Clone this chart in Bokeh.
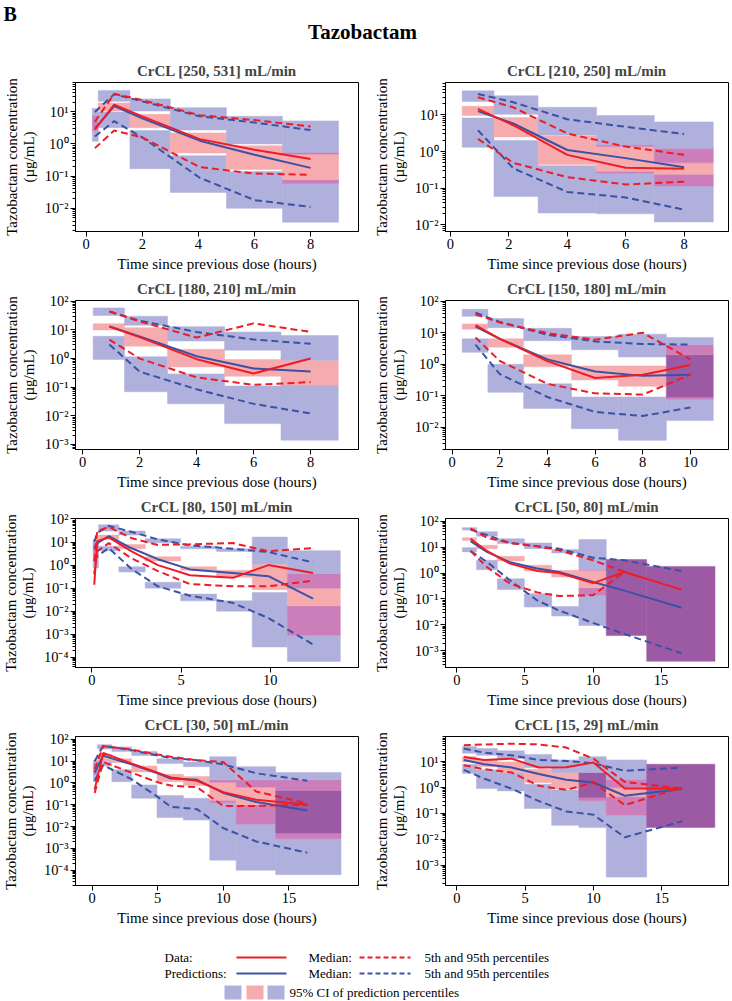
import math
from bokeh.plotting import figure
from bokeh.layouts import column, row
from bokeh.models import Range1d, FixedTicker, CustomJSTickFormatter, ColumnDataSource
from bokeh.embed import file_html
from bokeh.resources import INLINE
from bokeh.core.properties import value

NaN = float("nan")

TITLES = ["CrCL [250, 531] mL/min", "CrCL [210, 250] mL/min",
          "CrCL [180, 210] mL/min", "CrCL [150, 180] mL/min",
          "CrCL [80, 150] mL/min", "CrCL [50, 80] mL/min",
          "CrCL [30, 50] mL/min", "CrCL [15, 29] mL/min"]
X_TICKS = [[0, 2, 4, 6, 8], [0, 2, 4, 6, 8], [0, 2, 4, 6, 8], [0, 2, 4, 6, 8, 10],
           [0, 5, 10], [0, 5, 10, 15], [0, 5, 10, 15], [0, 5, 10, 15]]
Y_DECADES = [1e-4, 1e-3, 1e-2, 1e-1, 1, 10, 100]

# ---------------- panel 1 : CrCL [250, 531]
BIN_1 = [0.22, 0.43, 1.56, 3.0, 5.0, 7.0, 9.0]
CI95_1 = [[7.8, 12.6], [21, 46], [10.5, 25], [2.7, 13.4], [1.0, 7.2], [0.48, 5.2]]
CIMED_1 = [[2.6, 7.8], [10.5, 18.6], [3.2, 8.3], [0.52, 2.2], [0.16, 0.87], [0.059, 0.55]]
CI05_1 = [[1.2, 7.8], [3.2, 9.8], [0.17, 2.6], [0.031, 0.43], [0.01, 0.14], [0.0037, 0.079]]
T_1 = [0.31, 1.0, 2.0, 4.05, 6.0, 8.0]
OBS_MED_1 = [2.8, 16.6, 7.2, 1.41, 0.66, 0.34]
OBS_P95_1 = [4.9, 36, 23, 7.8, 5.5, 3.5]
OBS_P05_1 = [0.74, 2.6, 1.6, 0.19, 0.12, 0.11]
PRED_MED_1 = [3.0, 15, 6.2, 1.26, 0.46, 0.18]
PRED_P95_1 = [9.8, 35, 21, 7.2, 4.6, 2.7]
PRED_P05_1 = [1.7, 5.1, 1.6, 0.089, 0.018, 0.011]

# ---------------- panel 2 : CrCL [210, 250]
BIN_2 = [0.40, 1.49, 3.0, 5.0, 6.98, 9.0]
CI95_2 = [[23, 45], [10.3, 33], [2.8, 16], [1.36, 9.6], [0.49, 6.4]]
CIMED_2 = [[9.6, 17], [2.5, 8.4], [0.44, 2.7], [0.26, 1.5], [0.115, 1.23]]
CI05_2 = [[1.3, 8.2], [0.059, 2.0], [0.021, 0.41], [0.02, 0.29], [0.012, 0.24]]
T_2 = [0.94, 2.15, 4.0, 6.0, 8.0]
OBS_MED_2 = [14.5, 5.2, 0.81, 0.36, 0.34]
OBS_P95_2 = [30, 16, 3.1, 1.36, 0.81]
OBS_P05_2 = [2.2, 0.49, 0.2, 0.126, 0.15]
PRED_MED_2 = [12.6, 5.8, 1.1, 0.66, 0.37]
PRED_P95_2 = [37, 22, 7.6, 4.7, 3.0]
PRED_P05_2 = [3.8, 0.35, 0.079, 0.056, 0.026]

# ---------------- panel 3 : CrCL [180, 210]
BIN_3 = [0.37, 1.47, 2.98, 4.98, 6.96, 8.97]
CI95_3 = [[32, 59], [14.5, 30], [4.1, 13], [1.95, 8.5], [0.87, 6.4]]
CIMED_3 = [[10, 16.5], [2.7, 12], [0.51, 2.1], [0.24, 0.92], [0.12, 0.87]]
CI05_3 = [[0.93, 6.0], [0.069, 1.15], [0.026, 0.29], [0.0053, 0.11], [0.0014, 0.12]]
T_3 = [0.94, 2.0, 4.0, 6.0, 8.0]
OBS_MED_3 = [13.2, 5.6, 0.95, 0.30, 1.0]
OBS_P95_3 = [44, 20, 5.4, 17, 8.5]
OBS_P05_3 = [4.6, 1.0, 0.22, 0.12, 0.15]
PRED_MED_3 = [13.2, 5.9, 1.2, 0.45, 0.35]
PRED_P95_3 = [44, 21, 8.5, 4.6, 3.3]
PRED_P05_3 = [3.1, 0.35, 0.084, 0.026, 0.012]

# ---------------- panel 4 : CrCL [150, 180]
BIN_4 = [0.42, 1.50, 3.0, 5.01, 6.98, 8.99, 10.96]
CI95_4 = [[33, 55], [14.5, 28], [5.6, 13.8], [2.9, 7.6], [1.7, 9.0], [0.092, 7.1]]
CIMED_4 = [[13, 19], [3.5, 6.4], [0.83, 2.0], [0.32, 0.89], [0.2, 0.89], [0.078, 4.2]]
CI05_4 = [[2.4, 6.4], [0.13, 1.0], [0.04, 0.24], [0.0091, 0.092], [0.0039, 0.092], [0.0165, 2.0]]
T_4 = [0.98, 2.0, 4.0, 6.0, 8.0, 10.0]
OBS_MED_4 = [17.5, 6.4, 1.26, 0.37, 0.47, 0.95]
OBS_P95_4 = [38, 21, 9.7, 6.0, 10, 1.43]
OBS_P05_4 = [7.1, 1.27, 0.24, 0.12, 0.11, 0.47]
PRED_MED_4 = [15.5, 6.4, 1.43, 0.59, 0.43, 0.47]
PRED_P95_4 = [43, 22, 8.6, 5.3, 4.4, 4.2]
PRED_P05_4 = [4.2, 0.49, 0.092, 0.031, 0.023, 0.043]

# ---------------- panel 5 : CrCL [80, 150]
BIN_5 = [0.07, 0.37, 1.51, 2.99, 4.98, 6.99, 8.99, 10.96, 13.93]
CI95_5 = [[5.1, 13], [30, 56], [20, 30], [9.2, 14], [5.1, 6.5], [3.9, 5.1], [1.1, 16.4], [0.1, 4.2]]
CIMED_5 = [[2.8, 9.2], [13, 20], [5.1, 7.8], [1.5, 2.3], [0.6, 0.84], [0.3, 0.6], [0.086, 1.07], [0.00092, 0.43]]
CI05_5 = [[0.76, 5.1], [4.2, 6.5], [0.5, 0.84], [0.1, 0.18], [0.028, 0.055], [0.01, 0.028],
          [0.00028, 0.065], [0.000066, 0.017]]
T_5 = [0.13, 0.3, 0.95, 2.2, 3.7, 5.5, 7.9, 9.9, 12.4]
OBS_MED_5 = [0.14, 11, 16, 4.0, 1.0, 0.36, 0.28, 1.0, 0.45]
OBS_P95_5 = [1.5, 30, 45, 15, 7.5, 8, 9, 4.0, 5.5]
OBS_P05_5 = [0.4, 4, 9, 2.0, 0.55, 0.15, 0.12, 0.12, 0.21]
PRED_MED_5 = [5.5, 9, 18, 5.5, 1.8, 0.65, 0.45, 0.33, 0.035]
PRED_P95_5 = [10, 25, 50, 28, 13, 7.2, 5.1, 3.7, 1.3]
PRED_P05_5 = [1.5, 2.5, 5.5, 0.7, 0.12, 0.047, 0.023, 0.005, 0.00036]

# ---------------- panel 6 : CrCL [50, 80]
BIN_6 = [0.40, 1.44, 2.97, 4.95, 6.96, 8.96, 10.97, 13.94, 18.96]
CI95_6 = [[45, 56], [26, 39], [13.6, 21], [8.7, 14.4], [5.9, 8.0], [1.27, 19.5], [0.0039, 3.3], [0.0004, 1.8]]
CIMED_6 = [[18, 23], [8.7, 11.7], [2.9, 4.4], [1.2, 2.0], [0.7, 1.27], [0.138, 1.35], [0.0039, 3.3], [0.0004, 1.8]]
CI05_6 = [[6.5, 9.5], [1.35, 3.1], [0.23, 0.6], [0.049, 0.16], [0.022, 0.051], [0.0095, 0.27],
          [0.0039, 3.3], [0.0004, 1.8]]
T_6 = [1.0, 2.2, 3.9, 5.9, 7.5, 10.0, 12.3, 16.5]
OBS_MED_6 = [21, 7.1, 2.3, 1.2, 1.0, 0.41, 1.1, 0.23]
OBS_P95_6 = [52, 23, 14.4, 10.7, 7.5, 3.1, 1.1, NaN]
OBS_P05_6 = [7.1, 1.7, 0.39, 0.18, 0.13, 0.14, 1.1, NaN]
PRED_MED_6 = [17, 6.5, 2.6, 1.5, 1.1, 0.45, 0.21, 0.046]
PRED_P95_6 = [47, 29, 14.4, 10.7, 8.7, 3.9, 3.1, 1.2]
PRED_P05_6 = [7.0, 2.7, 0.52, 0.088, 0.036, 0.012, 0.0045, 0.00081]

# ---------------- panel 7 : CrCL [30, 50]
BIN_7 = [0.10, 0.43, 1.51, 3.02, 4.95, 6.96, 8.97, 10.98, 13.99, 18.97]
CI95_7 = [[4.3, 11], [36, 57], [28, 45], [18, 28], [7.9, 13], [5.6, 9.1], [1.07, 16], [0.64, 5.6], [0.0051, 3.0]]
CIMED_7 = [[2.5, 8.5], [10, 20], [8.5, 13], [3.2, 6.0], [1.15, 2.5], [0.76, 2.0], [0.126, 1.4], [0.013, 1.4],
           [0.0028, 1.4]]
CI05_7 = [[1.15, 4.3], [6.0, 10], [1.15, 4.0], [0.2, 0.81], [0.026, 0.27], [0.02, 0.2], [0.00029, 0.16],
          [0.0001, 0.1], [0.000063, 0.45]]
T_7 = [0.2, 0.85, 3.0, 5.0, 6.0, 8.0, 10.0, 12.5, 16.4]
OBS_MED_7 = [0.5, 24, 7.9, 3.0, 1.8, 1.27, 0.38, 0.17, 0.10]
OBS_P95_7 = [4.3, 48, 34, 20, 16, 11, 9.1, 0.41, 0.115]
OBS_P05_7 = [0.35, 9.1, 3.0, 1.07, 0.76, 0.64, 0.089, 0.089, 0.10]
PRED_MED_7 = [3.0, 18, 7.1, 2.8, 1.6, 1.4, 0.35, 0.135, 0.055]
PRED_P95_7 = [10, 51, 32, 18, 14, 11, 7.1, 2.8, 1.27]
PRED_P05_7 = [1.27, 6.5, 1.5, 0.23, 0.081, 0.063, 0.0085, 0.0021, 0.00064]

# ---------------- panel 8 : CrCL [15, 29]
BIN_8 = [0.40, 1.43, 2.96, 4.94, 6.94, 8.94, 10.94, 13.9, 18.9]
CI95_8 = [[21, 38], [17.5, 32], [13, 26], [5.9, 19], [3.8, 11.6], [0.41, 15.5], [1.0, 11.6], [0.029, 7.9]]
CIMED_8 = [[9.7, 15.5], [6.4, 11.6], [3.8, 9.7], [1.56, 5.1], [0.87, 3.8], [0.31, 3.8], [0.087, 2.1], [0.029, 7.9]]
CI05_8 = [[3.5, 7.9], [0.91, 4.8], [0.74, 3.8], [0.155, 1.34], [0.035, 0.81], [0.029, 3.8], [0.00035, 0.45],
          [0.029, 7.9]]
T_8 = [0.5, 2.0, 4.0, 6.0, 8.0, 10.0, 12.3, 16.5]
OBS_MED_8 = [15, 11.6, 13, 5.9, 6.0, 9.2, 0.92, 0.92]
OBS_P95_8 = [43, 46, 49, 46, 35, 13, 1.65, 0.92]
OBS_P05_8 = [7.2, 5.1, 3.8, 1.16, 0.81, 1.56, 0.21, 1.0]
PRED_MED_8 = [11.6, 7.9, 5.9, 3.3, 2.0, 1.56, 0.48, 0.87]
PRED_P95_8 = [32, 22, 17.5, 11.6, 10.6, 8.6, 4.4, 5.9]
PRED_P05_8 = [4.8, 2.2, 0.9, 0.3, 0.12, 0.09, 0.012, 0.05]

PANELS = [
    (BIN_1, CI05_1, CIMED_1, CI95_1, T_1, OBS_MED_1, OBS_P05_1, OBS_P95_1, PRED_MED_1, PRED_P05_1, PRED_P95_1),
    (BIN_2, CI05_2, CIMED_2, CI95_2, T_2, OBS_MED_2, OBS_P05_2, OBS_P95_2, PRED_MED_2, PRED_P05_2, PRED_P95_2),
    (BIN_3, CI05_3, CIMED_3, CI95_3, T_3, OBS_MED_3, OBS_P05_3, OBS_P95_3, PRED_MED_3, PRED_P05_3, PRED_P95_3),
    (BIN_4, CI05_4, CIMED_4, CI95_4, T_4, OBS_MED_4, OBS_P05_4, OBS_P95_4, PRED_MED_4, PRED_P05_4, PRED_P95_4),
    (BIN_5, CI05_5, CIMED_5, CI95_5, T_5, OBS_MED_5, OBS_P05_5, OBS_P95_5, PRED_MED_5, PRED_P05_5, PRED_P95_5),
    (BIN_6, CI05_6, CIMED_6, CI95_6, T_6, OBS_MED_6, OBS_P05_6, OBS_P95_6, PRED_MED_6, PRED_P05_6, PRED_P95_6),
    (BIN_7, CI05_7, CIMED_7, CI95_7, T_7, OBS_MED_7, OBS_P05_7, OBS_P95_7, PRED_MED_7, PRED_P05_7, PRED_P95_7),
    (BIN_8, CI05_8, CIMED_8, CI95_8, T_8, OBS_MED_8, OBS_P05_8, OBS_P95_8, PRED_MED_8, PRED_P05_8, PRED_P95_8),
]

# ---------------- view settings (axis extents)
X_EXTENTS = [(-0.38, 9.71), (-0.17, 9.52), (-0.25, 9.68), (-0.28, 11.6),
             (-0.92, 14.95), (-0.84, 19.95), (-1.26, 20.3), (-0.84, 19.9)]
Y_EXTENTS = [(0.0019, 81), (0.0066, 76), (0.00066, 107), (0.002, 105),
             (0.000036, 105), (0.00023, 126), (0.00002, 135), (0.000166, 93)]

# ---------------- styles
FONT = "Liberation Serif"
RED = "#EE1C25"
BLUE = "#3A52A6"
LAV = "#B0B0DC"
LAV2 = "#A2A2D4"
PINK = "#F6ACAF"
PMIX = "#CC7EBA"
DARK = "#9C5AA5"
DASH = "7 4"

MINOR = [m * d for d in [1e-5, 1e-4, 1e-3, 1e-2, 1e-1, 1, 10, 100] for m in range(2, 10)]

SUP_JS = """
const s = {'-':'\u207b','0':'\u2070','1':'\u00b9','2':'\u00b2','3':'\u00b3','4':'\u2074',
           '5':'\u2075','6':'\u2076','7':'\u2077','8':'\u2078','9':'\u2079'};
const e = Math.round(Math.log10(tick));
return '10' + String(e).split('').map(c => s[c]).join('');
"""


def box_segments(edges, ci05, cimed, ci95):
    out = dict(left=[], right=[], bottom=[], top=[], color=[])
    for k in range(len(edges) - 1):
        blues = [ci05[k], ci95[k]]
        med = cimed[k]
        cuts = sorted({ci05[k][0], ci05[k][1], med[0], med[1], ci95[k][0], ci95[k][1]})
        for a, b in zip(cuts[:-1], cuts[1:]):
            m = math.sqrt(a * b)
            nb = sum(1 for lo, hi in blues if lo < m < hi)
            pk = med[0] < m < med[1]
            if nb == 0 and not pk:
                continue
            col = [[None, PINK], [LAV, PMIX], [LAV2, DARK]][nb][int(pk)]
            out["left"].append(edges[k])
            out["right"].append(edges[k + 1])
            out["bottom"].append(a)
            out["top"].append(b)
            out["color"].append(col)
    return out


def make_panel(i):
    left_col = (i % 2 == 0)
    (edges, ci05, cimed, ci95, t, omed, op05, op95, pmed, pp05, pp95) = PANELS[i]
    p = figure(width=366, height=218, title=TITLES[i],
               x_range=Range1d(*X_EXTENTS[i]), y_range=Range1d(*Y_EXTENTS[i]),
               y_axis_type="log", output_backend="svg", toolbar_location=None,
               min_border_left=69 if left_col else 79, min_border_right=8 if left_col else 4,
               min_border_top=26, min_border_bottom=42)
    p.title.text_font = FONT
    p.title.text_font_size = "15px"
    p.title.text_font_style = "bold"
    p.title.align = "center"
    p.title.standoff = 7
    p.outline_line_color = "black"
    p.outline_line_alpha = 1
    p.outline_line_width = 1
    p.xgrid.visible = False
    p.ygrid.visible = False

    xa = p.xaxis[0]
    xa.ticker = FixedTicker(ticks=X_TICKS[i])
    xa.axis_label = "Time since previous dose (hours)"
    xa.minor_tick_line_color = None
    ya = p.yaxis[0]
    ya.ticker = FixedTicker(ticks=Y_DECADES, minor_ticks=MINOR)
    ya.formatter = CustomJSTickFormatter(code=SUP_JS)
    ya.axis_label = "Tazobactam concentration\n(\u00b5g/mL)"
    ya.minor_tick_in = 0
    ya.minor_tick_out = 3
    ya.axis_label_text_line_height = 1.05
    for ax in (xa, ya):
        ax.axis_line_color = "black"
        ax.major_tick_line_color = "black"
        ax.major_tick_in = 0
        ax.major_tick_out = 5
        ax.major_label_text_font = FONT
        ax.major_label_text_font_size = "14.5px"
        ax.major_label_text_color = "black"
        ax.major_label_standoff = 2
        ax.axis_label_text_font = FONT
        ax.axis_label_text_font_size = "15px"
        ax.axis_label_text_font_style = "normal"
        ax.axis_label_text_color = "black"
    xa.axis_label_standoff = 4
    ya.axis_label_standoff = 5

    segs = ColumnDataSource(box_segments(edges, ci05, cimed, ci95))
    p.quad(left="left", right="right", bottom="bottom", top="top", source=segs,
           fill_color="color", line_color="color", line_width=0.5)

    p.line(t, pp95, line_color=BLUE, line_width=2, line_dash=DASH)
    p.line(t, pp05, line_color=BLUE, line_width=2, line_dash=DASH)
    p.line(t, pmed, line_color=BLUE, line_width=2)
    p.line(t, op95, line_color=RED, line_width=2, line_dash=DASH)
    p.line(t, op05, line_color=RED, line_width=2, line_dash=DASH)
    p.line(t, omed, line_color=RED, line_width=2)
    return p


def blank(width, height):
    f = figure(width=width, height=height, x_range=Range1d(0, width), y_range=Range1d(height, 0),
               output_backend="svg", toolbar_location=None,
               x_axis_location=None, y_axis_location=None, min_border=0)
    f.outline_line_color = None
    f.xgrid.visible = False
    f.ygrid.visible = False
    return f


# header (page has no body margin in Bokeh's template)
head = blank(732, 56)
head.text(x=[3], y=[13], text=["B"], text_font=value(FONT), text_font_size="20px",
          text_font_style="bold", text_baseline="middle", text_align="left")
head.text(x=[362], y=[31], text=["Tazobactam"], text_font=value(FONT), text_font_size="21px",
          text_font_style="bold", text_baseline="middle", text_align="center")

# legend
LEG_ROWS = [("Data:", RED), ("Predictions:", BLUE)]
leg = blank(732, 73)
row_y = [29, 45]
for (lab, col), y in zip(LEG_ROWS, row_y):
    leg.text(x=[164], y=[y], text=[lab], text_font=value(FONT), text_font_size="13px",
             text_baseline="middle")
    leg.line([236, 286], [y, y], line_color=col, line_width=2)
    leg.text(x=[308], y=[y], text=["Median:"], text_font=value(FONT), text_font_size="13px",
             text_baseline="middle")
    leg.line([359, 410], [y, y], line_color=col, line_width=2, line_dash="5 3")
    leg.text(x=[424], y=[y], text=["5th and 95th percentiles"], text_font=value(FONT),
             text_font_size="13px", text_baseline="middle")
leg.quad(left=[224, 246, 267], right=[241, 263, 284], top=[57, 57, 57], bottom=[71, 71, 71],
         fill_color=[LAV, PINK, LAV], line_color=None)
leg.text(x=[289], y=[64], text=["95% CI of prediction percentiles"], text_font=value(FONT),
         text_font_size="13px", text_baseline="middle")

panels = [make_panel(i) for i in range(8)]
layout = column(head,
                row(panels[0], panels[1]), row(panels[2], panels[3]),
                row(panels[4], panels[5]), row(panels[6], panels[7]),
                leg)

open("out.html", "w").write(file_html(layout, INLINE, title="Tazobactam"))
